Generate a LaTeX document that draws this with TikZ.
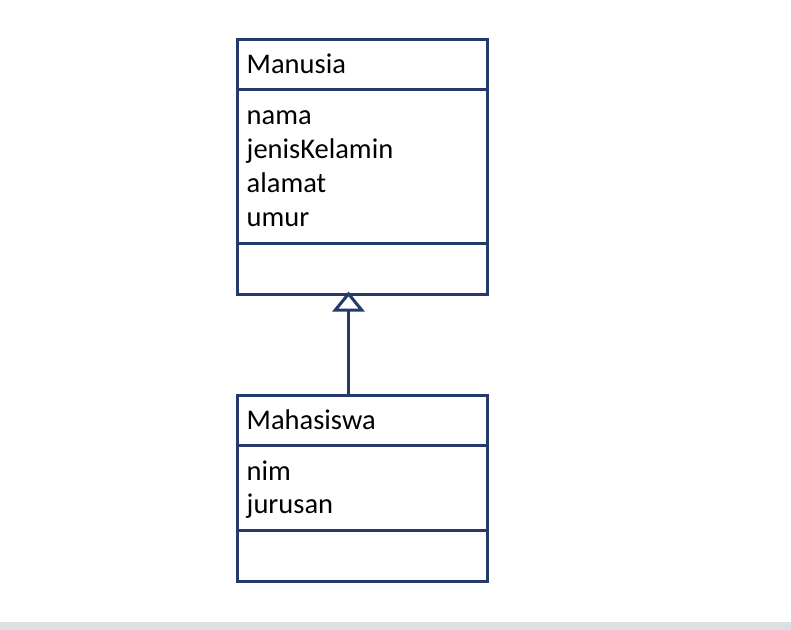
\documentclass[tikz,border=0pt]{standalone}
\usepackage{fontspec}
\setmainfont{Carlito}
\usetikzlibrary{arrows.meta}
\definecolor{navy}{RGB}{37,58,106}
\definecolor{barg}{RGB}{222,223,224}
\tikzset{
  comp/.style={draw=navy, line width=3bp, inner sep=0pt, outer sep=0pt, minimum width=250bp, anchor=north west},
  lbl/.style={anchor=base west, inner sep=0pt, font=\fontsize{28.6pt}{34pt}\selectfont, text=black},
  inherit/.style={draw=navy, line width=3bp, -{Triangle[open, length=20bp, width=32bp, line width=3bp]}}
}
\begin{document}
\begin{tikzpicture}[x=1bp, y=-1bp]
\useasboundingbox (0,0) rectangle (791,630);
\fill[barg] (0,622) rectangle (791,630);
% Manusia
\node[comp, minimum height=50bp] (m1) at (237.5,39.5) {};
\node[comp, minimum height=154bp] (m2) at (237.5,89.5) {};
\node[comp, minimum height=51bp] (m3) at (237.5,243.5) {};
\node[lbl] (mname) at (246.5,74) {Manusia};
\node[lbl] (ma1) at (246.5,125) {nama};
\node[lbl] (ma2) at (246.5,159) {jenisKelamin};
\node[lbl] (ma3) at (246.5,192.5) {alamat};
\node[lbl] (ma4) at (246.5,226.5) {umur};
% Mahasiswa
\node[comp, minimum height=50bp] (s1) at (237.5,395.5) {};
\node[comp, minimum height=85bp] (s2) at (237.5,445.5) {};
\node[comp, minimum height=51bp] (s3) at (237.5,530.5) {};
\node[lbl] (sname) at (246.5,429) {Mahasiswa};
\node[lbl] (sa1) at (246.5,480) {nim};
\node[lbl] (sa2) at (246.5,513.5) {jurusan};
% generalization
\draw[inherit, shorten >=-3bp] (s1.north -| 348.5,0) -- (m3.south -| 348.5,0);
\end{tikzpicture}
\end{document}
